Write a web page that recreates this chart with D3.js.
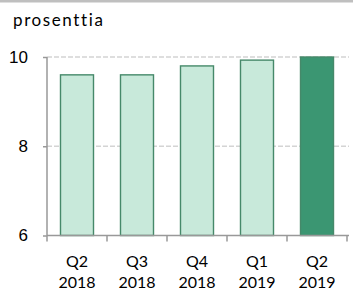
<!DOCTYPE html>
<html>
<head>
<meta charset="utf-8">
<script src="https://cdn.jsdelivr.net/npm/d3@7"></script>
<style>
  body { margin: 0; background: #fff; }
  svg { display: block; font-family: Lato, "Open Sans", sans-serif; }
</style>
</head>
<body>
<div id="chart"></div>
<script>
// data
var quarters = ["Q2", "Q3", "Q4", "Q1", "Q2"];
var years = ["2018", "2018", "2018", "2019", "2019"];
var values = [9.6, 9.6, 9.8, 9.93, 10.0];
var yTicks = [6, 8, 10];
var unitLabel = "prosenttia";

var W = 353, H = 293;
var M = {top: 57, right: 6, bottom: 57.5, left: 47};

var svg = d3.select('#chart').append('svg')
    .attr('width', W)
    .attr('height', H);

// gray rule across the top
svg.append('rect')
    .attr('x', 0).attr('y', 0)
    .attr('width', W).attr('height', 2.5)
    .style('fill', '#bfbfbf');

var x = d3.scaleBand()
    .domain(d3.range(values.length))
    .range([M.left, W - M.right])
    .paddingInner(0.45)
    .paddingOuter(0.225);

var y = d3.scaleLinear()
    .domain([6, 10])
    .range([H - M.bottom, M.top]);

// gridlines
svg.append('g').selectAll('line')
    .data(yTicks.filter(function(d) { return d > 6; }))
    .enter()
    .append('line')
        .attr('x1', M.left)
        .attr('x2', W - 4)
        .attr('y1', function(d) { return y(d); })
        .attr('y2', function(d) { return y(d); })
        .style('stroke', '#d4d4d4')
        .style('stroke-width', 1.5)
        .style('stroke-dasharray', '5,2');

// bars
svg.append('g').selectAll('rect')
    .data(values)
    .enter()
    .append('rect')
        .attr('x', function(d, i) { return x(i); })
        .attr('y', function(d) { return y(d); })
        .attr('width', x.bandwidth())
        .attr('height', function(d) { return y(6) - y(d); })
        .style('fill', function(d, i) { return i === values.length - 1 ? '#3b9672' : '#c8e9da'; })
        .style('stroke', '#46896a')
        .style('stroke-width', 1.4);

// y axis
var yAxis = svg.append('g')
    .attr('transform', 'translate(' + M.left + ',0)')
    .call(d3.axisLeft(y).tickValues(yTicks).tickSize(4).tickPadding(15).tickFormat(d3.format('d')));
yAxis.select('.domain').remove();
yAxis.append('line')
    .attr('x1', 0).attr('x2', 0)
    .attr('y1', y(10)).attr('y2', y(6))
    .style('stroke', '#999').style('stroke-width', 1.5);
yAxis.selectAll('.tick line').style('stroke', '#999').style('stroke-width', 1.5);
yAxis.selectAll('text')
    .style('font-size', '17px')
    .style('fill', '#000');

// x axis
var bounds = d3.range(values.length + 1).map(function(i) {
    return M.left + i * x.step();
});
var xAxis = svg.append('g');
xAxis.append('line')
    .attr('x1', M.left).attr('x2', W - 4)
    .attr('y1', y(6)).attr('y2', y(6))
    .style('stroke', '#999').style('stroke-width', 1.5);
xAxis.selectAll('line.tk')
    .data(bounds)
    .enter()
    .append('line')
        .attr('class', 'tk')
        .attr('x1', function(d) { return d; })
        .attr('x2', function(d) { return d; })
        .attr('y1', y(6))
        .attr('y2', y(6) + 6)
        .style('stroke', '#999').style('stroke-width', 1.5);

var lbl = xAxis.selectAll('text')
    .data(values)
    .enter()
    .append('text')
        .attr('text-anchor', 'middle')
        .style('font-size', '16px')
        .style('fill', '#000');
lbl.append('tspan')
    .attr('x', function(d, i) { return x(i) + x.bandwidth() / 2; })
    .attr('y', 267)
    .text(function(d, i) { return quarters[i]; });
lbl.append('tspan')
    .attr('x', function(d, i) { return x(i) + x.bandwidth() / 2; })
    .attr('y', 288)
    .text(function(d, i) { return years[i]; });

// unit label
svg.append('text')
    .attr('x', 13)
    .attr('y', 26)
    .style('font-size', '17px')
    .style('letter-spacing', '1.6px')
    .style('fill', '#000')
    .text(unitLabel);
</script>
</body>
</html>
